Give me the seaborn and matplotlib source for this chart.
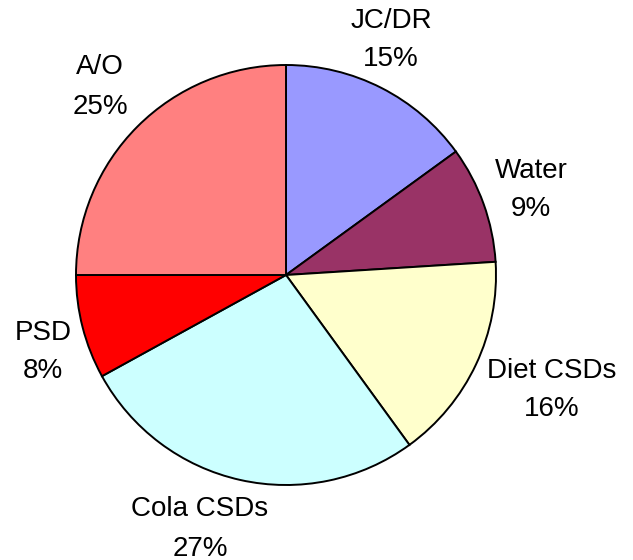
import matplotlib
matplotlib.use("Agg")
import matplotlib.pyplot as plt
import seaborn as sns

sns.set_theme(style="white")
plt.rcParams["font.family"] = ["Liberation Sans", "DejaVu Sans"]

categories = ["JC/DR", "Water", "Diet CSDs", "Cola CSDs", "PSD", "A/O"]
shares = [15, 9, 16, 27, 8, 25]
colors = ["#9999FF", "#993366", "#FFFFCC", "#CCFFFF", "#FF0000", "#FF8080"]

# label anchor points (pixel space, origin top-left)
label_pos = [(391, 40), (531, 190), (552, 390), (200, 529), (43, 352), (100, 87)]

W, H = 633, 560
fig = plt.figure(figsize=(W / 100, H / 100), dpi=100)
ax = fig.add_axes([0, 0, 1, 1])
ax.set_xlim(0, W)
ax.set_ylim(0, H)
ax.axis("off")

cx, cy, r = 286, H - 275, 210
ax.pie(shares, colors=colors, startangle=90, counterclock=False,
       center=(cx, cy), radius=r,
       wedgeprops=dict(edgecolor="black", linewidth=1.4))
ax.set_xlim(0, W)
ax.set_ylim(0, H)
ax.set_aspect("equal")

for name, val, (px, py) in zip(categories, shares, label_pos):
    ax.text(px, H - py, f"{name}\n{val}%", ha="center", va="center",
            fontsize=20, linespacing=1.65, color="black")

fig.savefig("out.png", dpi=100)
